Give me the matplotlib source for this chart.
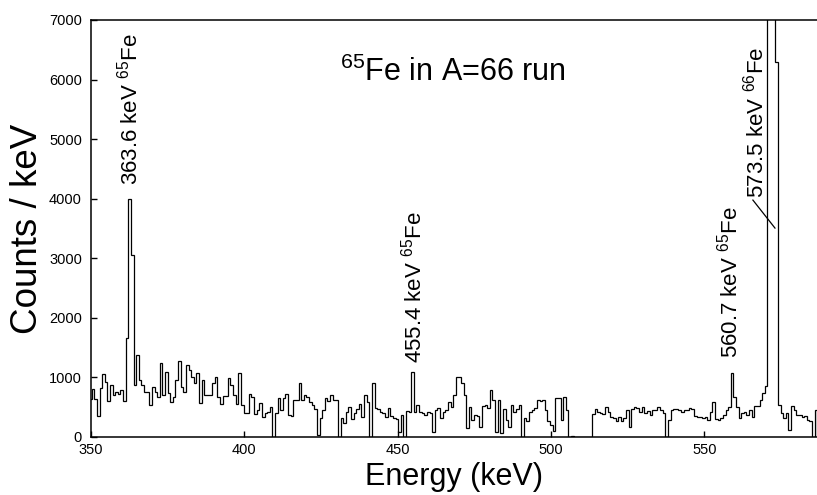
import numpy as np
import matplotlib
matplotlib.use("Agg")
import matplotlib.pyplot as plt

# spectrum: counts per channel, channels start at 349.36 keV, 0.854 keV wide
start_kev = 349.36
kev_per_channel = 0.854
counts = [
    630, 800, 630, 350, 815, 1055, 915, 610, 870, 700,
    750, 715, 790, 610, 1670, 4000, 3050, 870, 1375, 955,
    870, 760, 760, 540, 845, 760, 675, 1235, 705, 1095,
    735, 590, 675, 955, 1280, 835, 760, 1210, 1125, 1010,
    900, 1080, 575, 955, 705, 705, 705, 900, 1010, 675,
    555, 695, 695, 985, 870, 705, 555, 1070, 535, 400,
    400, 715, 675, 385, 455, 565, 340, 400, 425, 510,
    0, 400, 650, 455, 650, 730, 370, 350, 620, 620,
    910, 620, 705, 675, 590, 535, 465, 30, 315, 455,
    650, 605, 705, 620, 620, 0, 315, 230, 425, 510,
    300, 410, 465, 555, 340, 705, 590, 0, 910, 480,
    465, 425, 400, 330, 480, 350, 315, 295, 90, 370,
    0, 440, 425, 1095, 425, 535, 425, 400, 370, 425,
    400, 90, 455, 480, 315, 425, 455, 595, 510, 705,
    1010, 1000, 900, 700, 150, 510, 285, 370, 350, 175,
    520, 535, 480, 790, 620, 90, 620, 73, 465, 285,
    175, 540, 425, 465, 540, 0, 315, 275, 425, 455,
    480, 620, 610, 620, 455, 270, 200, 100, 650, 650,
    285, 665, 455, 0, 20, 0, 0, 0, 0, 0,
    0, 0, 385, 465, 425, 400, 385, 510, 425, 340,
    315, 275, 340, 275, 315, 455, 175, 465, 500, 480,
    420, 500, 400, 430, 370, 460, 455, 500, 460, 400,
    0, 290, 455, 470, 465, 455, 425, 455, 455, 480,
    465, 350, 330, 330, 315, 330, 285, 425, 590, 300,
    285, 313, 369, 453, 508, 1079, 676, 508, 313, 397,
    425, 369, 453, 341, 520, 520, 620, 732, 855, 14000,
    16000, 12000, 6300, 536, 397, 313, 397, 117, 520, 453,
    369, 369, 341, 350, 285, 260, 0, 453,
]

# peak labels: text, x (keV), bottom of text (counts)
peak_texts = ["363.6 keV $^{65}$Fe", "455.4 keV $^{65}$Fe",
              "560.7 keV $^{65}$Fe", "573.5 keV $^{66}$Fe"]
peak_x = [362.7, 455.1, 558.2, 566.8]
peak_y = [4230, 1240, 1330, 4010]

plt.rcParams['font.family'] = ['Liberation Sans', 'DejaVu Sans']
plt.rcParams['mathtext.fontset'] = 'custom'
plt.rcParams['mathtext.rm'] = 'Liberation Sans'
plt.rcParams['mathtext.it'] = 'Liberation Sans:italic'
plt.rcParams['mathtext.bf'] = 'Liberation Sans:bold'

fig = plt.figure(figsize=(8.17, 4.95), dpi=100)
ax = fig.add_axes([0.1114, 0.1172, 0.8886, 0.8424])

edges = start_kev + kev_per_channel * np.arange(len(counts) + 1)
ax.stairs(counts, edges, color='black', linewidth=0.9, baseline=0)

ax.set_xlim(350, 586.7)
ax.set_ylim(0, 7000)
ax.set_xticks([350, 400, 450, 500, 550])
ax.set_yticks(range(0, 7001, 1000))
ax.tick_params(direction='in', length=4, width=1, labelsize=10.5)
ax.tick_params(axis='y', pad=6.5)
ax.tick_params(axis='x', pad=4)
for s in ['left', 'bottom', 'top']:
    ax.spines[s].set_linewidth(1.1)
ax.spines['right'].set_visible(False)

ax.set_xlabel("Energy (keV)", fontsize=22, labelpad=4)
ax.set_ylabel("Counts / keV", fontsize=26.5, labelpad=3)

ax.text(468, 6120, "$^{65}$Fe in A=66 run", fontsize=22, ha='center', va='center')

for t, x, y in zip(peak_texts, peak_x, peak_y):
    ax.text(x, y, t, rotation=90, ha='center', va='bottom', fontsize=16)

# leader line for the 573.5 keV label
ax.plot([565.8, 573.0], [3977, 3507], color='black', linewidth=0.9)

fig.savefig("out.png", dpi=100)
